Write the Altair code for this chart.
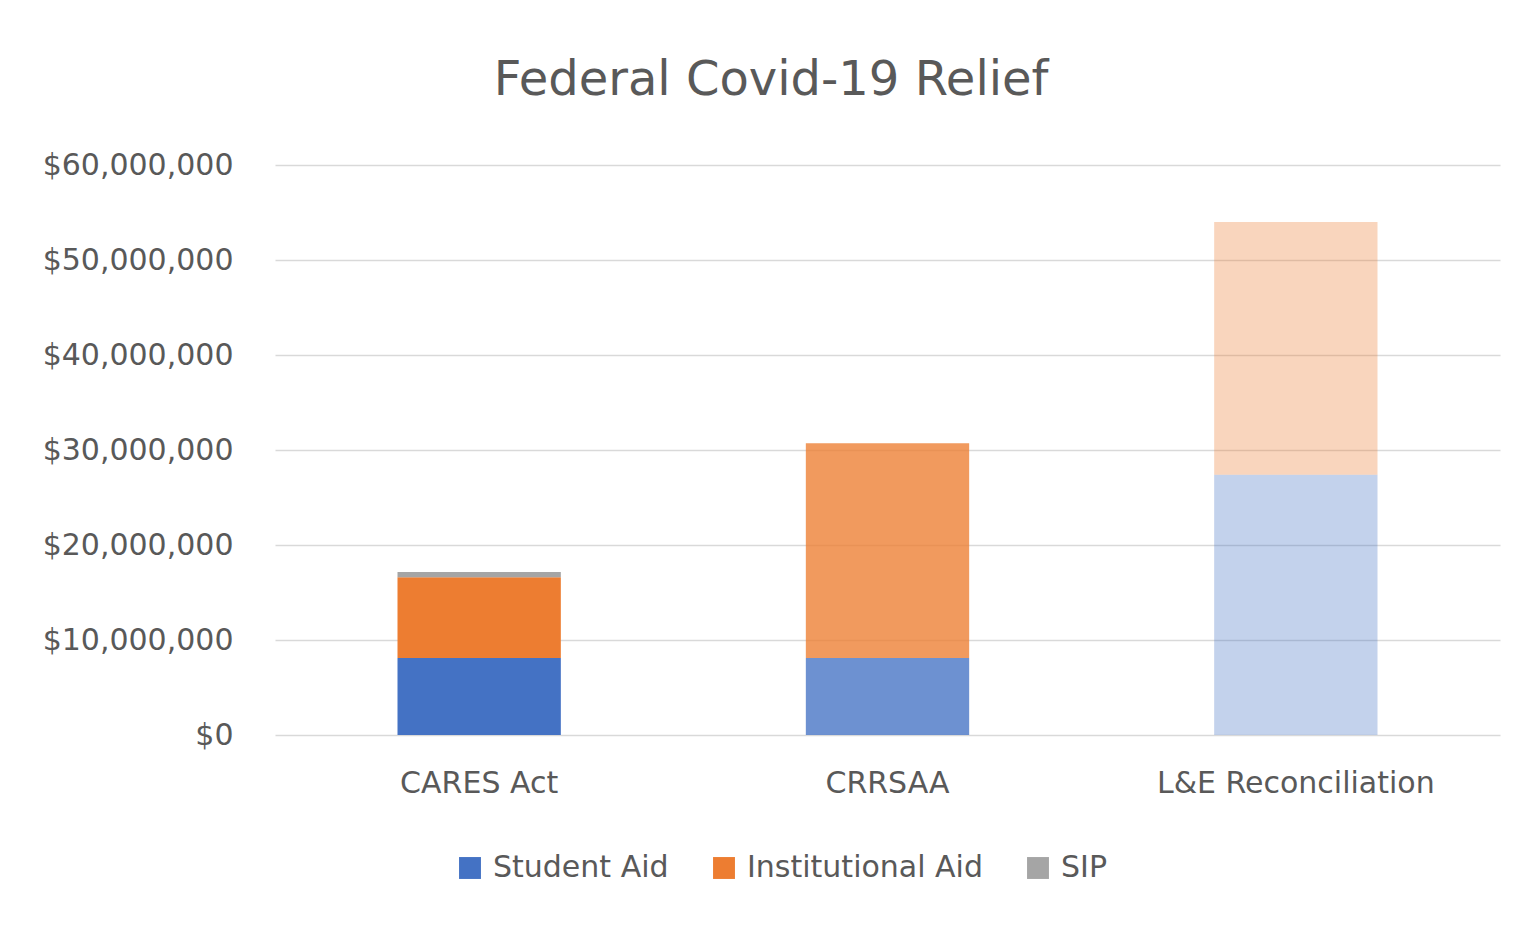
import altair as alt
import pandas as pd

acts = ["CARES Act", "CRRSAA", "L&E Reconciliation"]
series_names = ["Student Aid", "Institutional Aid", "SIP"]
student_aid = [8_100_000, 8_100_000, 27_400_000]
institutional_aid = [8_500_000, 22_600_000, 26_600_000]
sip = [550_000, 0, 0]
y_ticks = [0, 10_000_000, 20_000_000, 30_000_000, 40_000_000, 50_000_000, 60_000_000]

rows = []
for i, act in enumerate(acts):
    for s, vals in zip(series_names, [student_aid, institutional_aid, sip]):
        rows.append({"act": act, "series": s, "value": vals[i]})
df = pd.DataFrame(rows)

FONT = "DejaVu Sans"
TXT = "#595959"
GRID = "#D9D9D9"

chart = (
    alt.Chart(df)
    .transform_calculate(
        idx="indexof(" + str(series_names) + ", datum.series)",
        act_idx="indexof(" + str(acts) + ", datum.act)",
    )
    .mark_bar()
    .encode(
        x=alt.X(
            "act:N",
            sort=acts,
            title=None,
            scale=alt.Scale(paddingInner=0.6, paddingOuter=0.3),
            axis=alt.Axis(labelAngle=0, ticks=False, domain=False, labelPadding=33,
                          labelFontSize=30, labelColor=TXT, labelFont=FONT, labelLimit=0),
        ),
        y=alt.Y(
            "value:Q",
            stack="zero",
            title=None,
            scale=alt.Scale(domain=[0, 60_000_000], nice=False),
            axis=alt.Axis(values=y_ticks, format="$,.0f", ticks=False, domain=False,
                          labelPadding=42, labelFontSize=30, labelColor=TXT, labelFont=FONT,
                          labelLimit=0, grid=True, gridColor=GRID, gridWidth=1.5),
        ),
        color=alt.Color(
            "series:N",
            sort=series_names,
            scale=alt.Scale(domain=series_names, range=["#4472C4", "#ED7D31", "#A5A5A5"]),
            legend=alt.Legend(
                title=None, orient="none", direction="horizontal",
                legendX=180, legendY=688,
                symbolType="square", symbolSize=480, symbolStrokeWidth=0,
                labelFontSize=30, labelFont=FONT, labelColor=TXT, labelLimit=0,
                labelOffset=8, columnPadding=40, symbolOpacity=1,
            ),
        ),
        opacity=alt.Opacity(
            "act_idx:Q",
            scale=alt.Scale(type="linear", domain=[0, 1, 2], range=[1.0, 0.78, 0.32]),
            legend=None,
        ),
        order=alt.Order("idx:Q"),
    )
    .properties(
        width=1225,
        height=570,
        title=alt.TitleParams(
            "Federal Covid-19 Relief", fontSize=48, font=FONT, color=TXT,
            fontWeight="normal", anchor="middle", frame="bounds", offset=45,
        ),
        autosize=alt.AutoSizeParams(type="none"),
        padding={"left": 267, "top": 157, "right": 20, "bottom": 180},
    )
    .configure(background="white")
    .configure_view(stroke=None)
)

chart.save("out.html", embed_options={"renderer": "svg", "actions": False})
